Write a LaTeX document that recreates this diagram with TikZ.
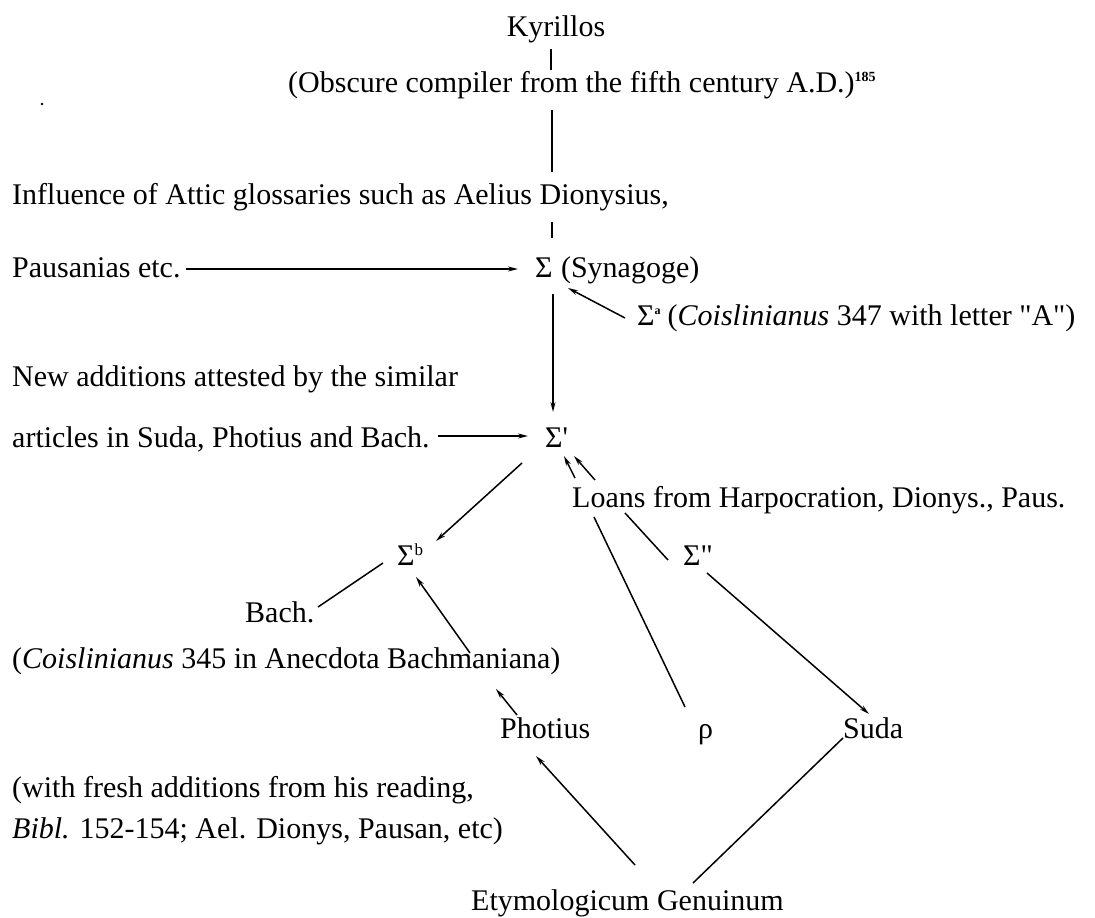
\documentclass[tikz,border=0pt]{standalone}
\usepackage{fontspec}
\newfontfamily\lib{Liberation Serif}
\usetikzlibrary{arrows.meta,calc}
\newcommand\smallsup[2]{\raisebox{#1}{\fontsize{#2}{#2}\selectfont\bfseries}}
\newcommand\supa{\raisebox{11pt}{\fontsize{12}{12}\selectfont\bfseries a}}
\newcommand\supb{\raisebox{10pt}{\fontsize{17}{17}\selectfont b}}
\newcommand\supn{\raisebox{11pt}{\fontsize{14}{14}\selectfont\bfseries 185}}
\begin{document}
\begin{tikzpicture}[x=1pt,y={(0pt,-1pt)},
  txt/.style={inner sep=0pt,anchor=base west,font=\lib\fontsize{30}{36}\selectfont},
  ln/.style={line width=1.5pt},
  arr/.style={ln,-{Stealth[length=10pt,width=5pt]}}]
\path[use as bounding box,fill=white] (0,0) rectangle (1095,918);
% texts
\node[txt,anchor=base] (kyr) at (556,36) {Kyrillos};
\node[txt] (comp) at (288,92) {(Obscure compiler from the fifth century A.D.)\supn};
\node[txt] (infl) at (12,204) {Influence of Attic glossaries such as Aelius Dionysius,};
\node[txt] (paus) at (12,277) {Pausanias etc.};
\node[txt] (S) at (535,277) {Σ};
\node[txt] (syn) at ($(S.base east)+(8,0)$) {(Synagoge)};
\node[txt] (Sa) at (637,325) {Σ\supa\hspace{7pt}(\textit{Coislinianus} 347 with letter "A")};
\node[txt] (new) at (12,386) {New additions attested by the similar};
\node[txt] (art) at (12,447) {articles in Suda, Photius and Bach.};
\node[txt] (Sp) at (545,447) {Σ'};
\node[txt] (loans) at (572,507) {Loans from Harpocration, Dionys., Paus.};
\node[txt] (Sb) at (397,565) {Σ\supb};
\node[txt] (Spp) at (683,565) {Σ"};
\node[txt] (bach) at (245,622) {Bach.};
\node[txt] (cois) at (12,668) {(\textit{Coislinianus} 345 in Anecdota Bachmaniana)};
\node[txt] (phot) at (500,738) {Photius};
\node[txt] (rho) at (698,738) {ρ};
\node[txt] (suda) at (843,738) {Suda};
\node[txt] (with) at (12,797) {(with fresh additions from his reading,};
\node[txt] (bibl) at (12,838) {\textit{Bibl.} 152-154; Ael. Dionys, Pausan, etc)};
\node[txt] (etym) at (471,910) {Etymologicum Genuinum};
\fill (42,104) circle (1.4pt);
% connectors
\coordinate (c1) at (551,49);  \coordinate (c2) at (551,70);
\draw[ln] (c1) -- (c2);
\coordinate (c3) at (552,110); \coordinate (c4) at (552,172);
\draw[ln] (c3) -- (c4);
\coordinate (c5) at (552,222); \coordinate (c6) at (552,238);
\draw[ln] (c5) -- (c6);
\coordinate (p1) at (186,269); \coordinate (p2) at (518,269);
\draw[arr] (p1) -- (p2);
\coordinate (a1) at (625,318); \coordinate (a2) at (568,288);
\draw[arr] (a1) -- (a2);
\coordinate (v1) at (553,294); \coordinate (v2) at (553,412);
\draw[arr] (v1) -- (v2);
\coordinate (q1) at (438,436); \coordinate (q2) at (528,436);
\draw[arr] (q1) -- (q2);
\coordinate (d1) at (522,463); \coordinate (d2) at (436,541);
\draw[arr] (d1) -- (d2);
\coordinate (l1) at (575,478); \coordinate (l2) at (564,456);
\draw[arr] (l1) -- (l2);
\coordinate (l3) at (595,480); \coordinate (l4) at (574,456);
\draw[arr] (l3) -- (l4);
\coordinate (l5) at (625,513); \coordinate (l6) at (668,560);
\draw[ln] (l5) -- (l6);
\coordinate (r1) at (594,517); \coordinate (r2) at (685,707);
\draw[ln] (r1) -- (r2);
\coordinate (s1) at (707,573); \coordinate (s2) at (869,714);
\draw[arr] (s1) -- (s2);
\coordinate (b1) at (318,607); \coordinate (b2) at (383,563);
\draw[ln] (b1) -- (b2);
\coordinate (f1) at (470,653); \coordinate (f2) at (416,577);
\draw[arr] (f1) -- (f2);
\coordinate (h1) at (517,715); \coordinate (h2) at (496,689);
\draw[arr] (h1) -- (h2);
\coordinate (e1) at (635,865); \coordinate (e2) at (536,756);
\draw[arr] (e1) -- (e2);
\coordinate (e3) at (693,883); \coordinate (e4) at (843,738);
\draw[ln] (e3) -- (e4);
\end{tikzpicture}
\end{document}
